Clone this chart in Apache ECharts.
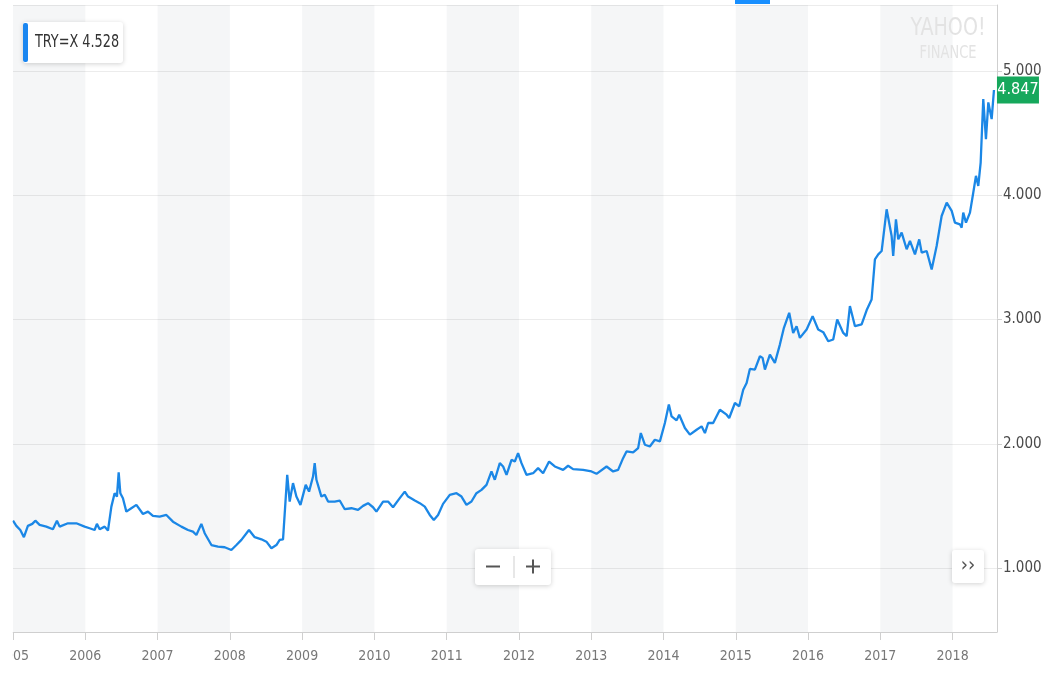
<!DOCTYPE html>
<html>
<head>
<meta charset="utf-8">
<script src="https://cdn.jsdelivr.net/npm/echarts@6/dist/echarts.min.js"></script>
<style>
html,body{margin:0;padding:0;background:#fff;}
#chart{width:1047px;height:679px;}
</style>
</head>
<body>
<div id="chart"></div>
<script>
// ---- data (decimal years, TRY per USD) ----
const symbolName = 'TRY=X';
const legendValue = '4.528';
const shadedYears = [2005, 2007, 2009, 2011, 2013, 2015, 2017];
const yearTicks = [2005,2006,2007,2008,2009,2010,2011,2012,2013,2014,2015,2016,2017,2018];
const dates = [
2005.000,2005.046,2005.101,2005.151,2005.206,2005.267,2005.309,2005.368,2005.461,2005.552,
2005.608,2005.645,2005.760,2005.876,2005.991,2006.060,2006.129,2006.161,2006.199,2006.268,
2006.314,2006.361,2006.406,2006.438,2006.462,2006.485,2006.521,2006.568,2006.637,2006.707,
2006.798,2006.867,2006.936,2007.029,2007.122,2007.213,2007.329,2007.421,2007.490,2007.537,
2007.606,2007.652,2007.745,2007.836,2007.929,2008.021,2008.091,2008.160,2008.265,2008.344,
2008.437,2008.506,2008.575,2008.644,2008.690,2008.736,2008.794,2008.828,2008.874,2008.921,
2008.977,2009.050,2009.096,2009.151,2009.174,2009.198,2009.267,2009.313,2009.359,2009.451,
2009.520,2009.590,2009.682,2009.774,2009.843,2009.912,2009.981,2010.028,2010.120,2010.189,
2010.258,2010.351,2010.420,2010.466,2010.559,2010.628,2010.697,2010.766,2010.822,2010.881,
2010.950,2011.043,2011.136,2011.205,2011.274,2011.343,2011.412,2011.482,2011.551,2011.620,
2011.666,2011.735,2011.781,2011.828,2011.897,2011.943,2011.988,2012.035,2012.104,2012.196,
2012.265,2012.334,2012.417,2012.496,2012.611,2012.680,2012.749,2012.888,2013.004,2013.073,
2013.212,2013.303,2013.372,2013.441,2013.488,2013.580,2013.649,2013.686,2013.742,2013.811,
2013.880,2013.950,2014.019,2014.074,2014.112,2014.181,2014.217,2014.296,2014.365,2014.458,
2014.527,2014.573,2014.618,2014.687,2014.780,2014.873,2014.909,2014.988,2015.047,2015.103,
2015.150,2015.195,2015.264,2015.334,2015.371,2015.403,2015.472,2015.541,2015.610,2015.666,
2015.739,2015.794,2015.841,2015.887,2015.980,2016.063,2016.140,2016.210,2016.279,2016.348,
2016.403,2016.487,2016.534,2016.579,2016.649,2016.741,2016.810,2016.879,2016.925,2016.971,
2017.018,2017.087,2017.156,2017.178,2017.216,2017.248,2017.295,2017.364,2017.410,2017.479,
2017.538,2017.572,2017.641,2017.710,2017.779,2017.848,2017.918,2017.987,2018.032,2018.101,
2018.125,2018.147,2018.185,2018.240,2018.286,2018.323,2018.355,2018.388,2018.424,2018.461,
2018.494,2018.540,2018.572
];
const values = [
1.381,1.339,1.306,1.248,1.339,1.355,1.381,1.347,1.333,1.312,
1.381,1.333,1.360,1.360,1.333,1.320,1.306,1.355,1.312,1.333,
1.301,1.494,1.602,1.575,1.769,1.602,1.562,1.454,1.481,1.508,
1.435,1.454,1.419,1.414,1.427,1.373,1.333,1.306,1.293,1.266,
1.355,1.280,1.185,1.172,1.167,1.145,1.185,1.226,1.306,1.248,
1.231,1.212,1.159,1.185,1.226,1.231,1.750,1.535,1.683,1.575,
1.508,1.669,1.615,1.736,1.844,1.710,1.575,1.589,1.535,1.535,
1.543,1.473,1.481,1.468,1.500,1.522,1.489,1.454,1.535,1.535,
1.489,1.562,1.615,1.575,1.543,1.522,1.494,1.427,1.387,1.427,
1.516,1.589,1.602,1.575,1.508,1.535,1.602,1.629,1.669,1.777,
1.710,1.844,1.817,1.750,1.871,1.857,1.925,1.844,1.750,1.763,
1.804,1.763,1.857,1.817,1.790,1.823,1.796,1.790,1.777,1.758,
1.817,1.777,1.790,1.884,1.938,1.930,1.965,2.086,1.992,1.978,
2.032,2.019,2.167,2.315,2.220,2.188,2.234,2.127,2.073,2.113,
2.140,2.086,2.167,2.167,2.274,2.234,2.207,2.328,2.301,2.435,
2.489,2.602,2.597,2.704,2.691,2.597,2.718,2.651,2.798,2.933,
3.054,2.892,2.946,2.852,2.919,3.027,2.919,2.898,2.825,2.839,
3.000,2.892,2.866,3.108,2.946,2.960,3.074,3.161,3.484,3.524,
3.551,3.887,3.672,3.511,3.806,3.645,3.699,3.565,3.632,3.524,
3.645,3.538,3.551,3.403,3.591,3.833,3.941,3.874,3.780,3.766,
3.739,3.860,3.780,3.860,4.022,4.156,4.075,4.263,4.774,4.452,
4.747,4.613,4.847
];
// ----------------------------------------

const FONT = "'Liberation Sans Narrow','DejaVu Sans Condensed','Liberation Sans',sans-serif";
const seriesData = dates.map((d, i) => [d, values[i]]);
const last = seriesData[seriesData.length - 1];
const chart = echarts.init(document.getElementById('chart'), null, {renderer: 'canvas'});

const option = {
  animation: false,
  backgroundColor: '#ffffff',
  grid: {left: 13, right: 50, top: 5, bottom: 47, containLabel: false, outerBoundsMode: 'none'},
  xAxis: {
    type: 'value',
    min: 2005,
    max: 2018.614,
    interval: 1,
    axisLine: {show: true, lineStyle: {color: '#cfcfcf', width: 1}},
    axisTick: {show: true, length: 8, lineStyle: {color: '#cfcfcf'}},
    axisLabel: {
      show: true, margin: 17, color: '#777', fontFamily: FONT, fontSize: 14,
      showMaxLabel: false,
      formatter: v => (yearTicks.indexOf(Math.round(v)) >= 0 && Math.abs(v - Math.round(v)) < 1e-6) ? String(Math.round(v)) : ''
    },
    splitLine: {show: false}
  },
  yAxis: {
    type: 'value',
    position: 'right',
    min: 0.485,
    max: 5.531,
    splitNumber: 5,
    axisLine: {show: true, lineStyle: {color: '#cfcfcf', width: 1}},
    axisTick: {show: true, length: 5, lineStyle: {color: '#cfcfcf'}},
    axisLabel: {
      show: true, margin: 6, color: '#4a4a4a', fontFamily: FONT, fontSize: 15,
      showMinLabel: false, showMaxLabel: false,
      formatter: v => v.toFixed(3)
    },
    splitLine: {show: true, lineStyle: {color: '#ececec', width: 1}}
  },
  series: [{
    type: 'line',
    data: seriesData,
    showSymbol: false,
    symbol: 'none',
    smooth: false,
    lineStyle: {color: '#1b87e6', width: 2.3},
    z: 3,
    markArea: {
      silent: true,
      itemStyle: {color: 'rgba(30,40,80,0.045)'},
      data: shadedYears.map(y => [{xAxis: y}, {xAxis: y + 1}])
    },
    markPoint: {
      silent: true,
      symbol: 'rect',
      symbolSize: [42, 27],
      symbolOffset: [24, 0],
      itemStyle: {color: '#16a85c'},
      label: {
        show: true, color: '#fff', fontFamily: FONT, fontSize: 16,
        formatter: () => last[1].toFixed(3)
      },
      data: [{coord: last}]
    }
  }],
  graphic: [
    // left clip area (chart starts at x=12)
    {type: 'rect', left: 0, top: 0, shape: {width: 12.5, height: 679}, style: {fill: '#fff'}, z: 100},
    // small blue tab at the very top
    {type: 'rect', shape: {x: 735, y: 0, width: 35, height: 4}, style: {fill: '#188fff'}, z: 100},
    // legend box
    {type: 'rect', shape: {x: 23, y: 22, width: 100, height: 41, r: 3},
      style: {fill: '#fff', shadowBlur: 5, shadowColor: 'rgba(0,0,0,0.18)', shadowOffsetY: 1}, z: 100},
    {type: 'rect', shape: {x: 23, y: 23, width: 5, height: 39, r: 2}, style: {fill: '#1a86f0'}, z: 101},
    {type: 'text', x: 35, y: 43, scaleX: 0.84,
      style: {text: symbolName + ' ' + legendValue, fill: '#333', font: '17px ' + FONT, textVerticalAlign: 'middle', verticalAlign: 'middle'}, z: 101},
    // watermark
    {type: 'text', x: 948, y: 28, scaleX: 0.85,
      style: {text: 'YAHOO!', fill: '#e3e3e3', font: '25px ' + FONT, align: 'center', verticalAlign: 'middle', textAlign: 'center', textVerticalAlign: 'middle'}, z: 50},
    {type: 'text', x: 948, y: 54, scaleX: 0.85,
      style: {text: 'FINANCE', fill: '#e3e3e3', font: '17px ' + FONT, align: 'center', verticalAlign: 'middle', textAlign: 'center', textVerticalAlign: 'middle'}, z: 50},
    // zoom buttons
    {type: 'rect', shape: {x: 475, y: 549, width: 76, height: 36, r: 3},
      style: {fill: '#fff', shadowBlur: 5, shadowColor: 'rgba(0,0,0,0.18)', shadowOffsetY: 1}, z: 100},
    {type: 'line', shape: {x1: 514, y1: 556, x2: 514, y2: 578}, style: {stroke: '#cfcfcf', lineWidth: 1}, z: 101},
    {type: 'rect', shape: {x: 486, y: 565.5, width: 14, height: 2}, style: {fill: '#555'}, z: 101},
    {type: 'rect', shape: {x: 526, y: 565.5, width: 14, height: 2}, style: {fill: '#555'}, z: 101},
    {type: 'rect', shape: {x: 532, y: 559.5, width: 2, height: 14}, style: {fill: '#555'}, z: 101},
    // forward button
    {type: 'rect', shape: {x: 952, y: 550, width: 32, height: 33, r: 3},
      style: {fill: '#fff', shadowBlur: 5, shadowColor: 'rgba(0,0,0,0.18)', shadowOffsetY: 1}, z: 100},
    {type: 'text', x: 968, y: 566, style: {text: '\u203A\u203A', fill: '#555', font: '20px ' + FONT, align: 'center', verticalAlign: 'middle', textAlign: 'center', textVerticalAlign: 'middle'}, z: 101}
  ]
};
chart.setOption(option);
</script>
</body>
</html>
